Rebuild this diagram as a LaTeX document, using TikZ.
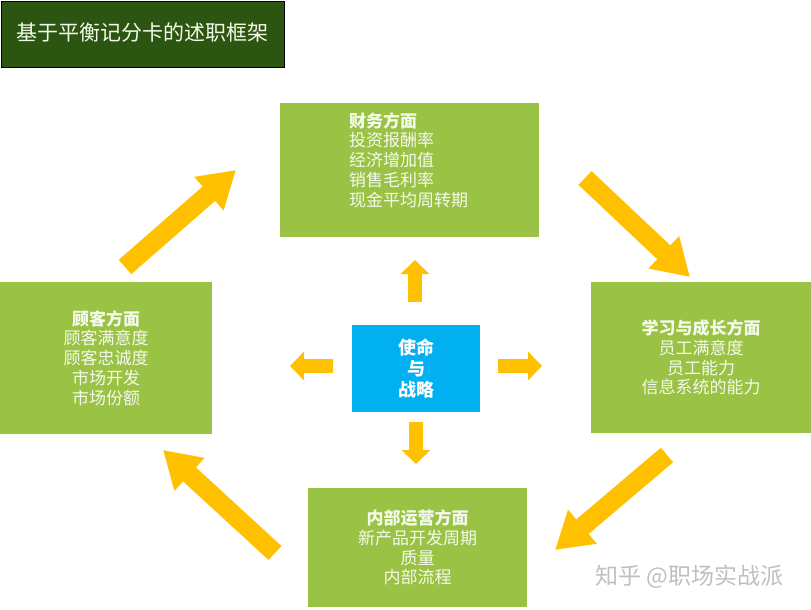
\documentclass[tikz,border=0pt]{standalone}
\usepackage{fontspec}
\setmainfont{Noto Sans CJK SC}
\usetikzlibrary{arrows.meta}
\definecolor{boxgreen}{HTML}{9AC245}
\definecolor{titlegreen}{HTML}{2B5511}
\definecolor{arrowyellow}{HTML}{FFC000}
\definecolor{centerblue}{HTML}{00B0F0}
\definecolor{softwhite}{HTML}{F4FAEA}
\tikzset{
  gbox/.style={fill=boxgreen, draw=none, inner sep=0pt, text=softwhite, align=center,
    font=\fontsize{17pt}{19.8pt}\selectfont},
  bigarrow/.style={draw=arrowyellow, line width=19pt, -{Triangle[width=42pt,length=36pt]}},
  smallarrow/.style={draw=arrowyellow, line width=14pt, -{Triangle[width=28pt,length=14pt]}},
}
\begin{document}
\begin{tikzpicture}[x=1pt,y=-1pt]
\useasboundingbox (0,0) rectangle (811,610);
% title
\node[draw=black, line width=0.6pt, fill=titlegreen, minimum width=283pt, minimum height=66pt, inner sep=0pt,
  anchor=north west] (title) at (1,1) {};
\node[anchor=west, text=softwhite, font=\fontsize{21pt}{24pt}\selectfont, inner sep=0pt] (titletext) at (16,33) {基于平衡记分卡的述职框架};
% boxes
\node[gbox, minimum width=259pt, minimum height=134pt] (fin) at (409.5,170) {};
\node[anchor=west, inner sep=0pt, align=left, text=softwhite, font=\fontsize{17pt}{19.8pt}\selectfont] (fintext) at (349,160)
  {\textbf{财务方面}\\投资报酬率\\经济增加值\\销售毛利率\\现金平均周转期};
\node[gbox, minimum width=212pt, minimum height=152pt] (cust) at (106,358)
  {\textbf{顾客方面}\\顾客满意度\\顾客忠诚度\\市场开发\\市场份额};
\node[gbox, minimum width=220pt, minimum height=151pt] (learn) at (701,357.5)
  {\textbf{学习与成长方面}\\员工满意度\\员工能力\\信息系统的能力};
\node[gbox, minimum width=219pt, minimum height=119pt] (proc) at (417.5,547.5)
  {\textbf{内部运营方面}\\新产品开发周期\\质量\\内部流程};
\node[fill=centerblue, minimum width=128pt, minimum height=87pt, inner sep=0pt, text=white, align=center,
  font=\bfseries\fontsize{18pt}{21pt}\selectfont] (mission) at (416,368.5) {使命\\与\\战略};
% small arrows
\coordinate (upA) at (415,302); \coordinate (upB) at (415,260);
\coordinate (leftA) at (333,366); \coordinate (leftB) at (290,366);
\coordinate (rightA) at (498,366); \coordinate (rightB) at (542,366);
\coordinate (downA) at (416,422); \coordinate (downB) at (416,464);
\draw[smallarrow] (upA) -- (upB);
\draw[smallarrow] (leftA) -- (leftB);
\draw[smallarrow] (rightA) -- (rightB);
\draw[smallarrow] (downA) -- (downB);
% big arrows
\coordinate (tlA) at (125,267); \coordinate (tlB) at (236,170);
\coordinate (trA) at (585,178); \coordinate (trB) at (690,277);
\coordinate (brA) at (667,455); \coordinate (brB) at (555,550);
\coordinate (blA) at (275,553); \coordinate (blB) at (163,450);
\draw[bigarrow] (tlA) -- (tlB);
\draw[bigarrow] (trA) -- (trB);
\draw[bigarrow] (brA) -- (brB);
\draw[bigarrow] (blA) -- (blB);
% watermark
\node[anchor=west, inner sep=0pt, text=black!25, font=\fontsize{23pt}{26pt}\selectfont] (wm) at (595,577) {知乎 @职场实战派};
\end{tikzpicture}
\end{document}
